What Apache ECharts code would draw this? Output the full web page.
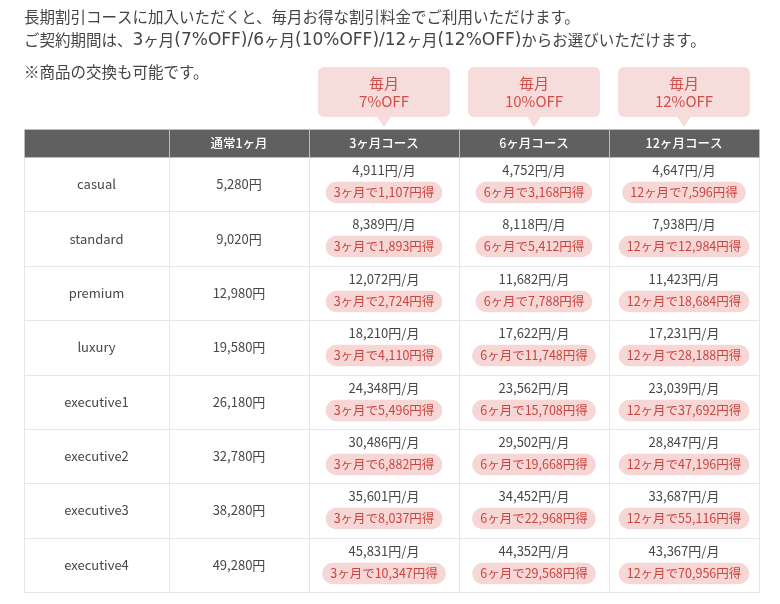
<!DOCTYPE html>
<html>
<head>
<meta charset="utf-8">
<script src="https://cdn.jsdelivr.net/npm/echarts@6/dist/echarts.min.js"></script>
<style>
html,body{margin:0;padding:0;background:#fff;}
#chart{width:780px;height:604px;}
</style>
</head>
<body>
<div id="chart"></div>
<script>
// ---- data ----
const introLine1 = '長期割引コースに加入いただくと、毎月お得な割引料金でご利用いただけます。';
// line 2 split into [text, isLatin] pieces
const introLine2 = [
  ['ご契約期間は、', false], ['3', true], ['ヶ月', false], ['(7%OFF)/6', true], ['ヶ月', false],
  ['(10%OFF)/12', true], ['ヶ月', false], ['(12%OFF)', true], ['からお選びいただけます。', false]
];
const noteText = '※商品の交換も可能です。';
const columnHeaders = ['', '通常1ヶ月', '3ヶ月コース', '6ヶ月コース', '12ヶ月コース'];
const rowNames = ['casual', 'standard', 'premium', 'luxury', 'executive1', 'executive2', 'executive3', 'executive4'];
const normalPrice = [5280, 9020, 12980, 19580, 26180, 32780, 38280, 49280];
const price3 = [4911, 8389, 12072, 18210, 24348, 30486, 35601, 45831];
const price6 = [4752, 8118, 11682, 17622, 23562, 29502, 34452, 44352];
const price12 = [4647, 7938, 11423, 17231, 23039, 28847, 33687, 43367];
const saving3 = [1107, 1893, 2724, 4110, 5496, 6882, 8037, 10347];
const saving6 = [3168, 5412, 7788, 11748, 15708, 19668, 22968, 29568];
const saving12 = [7596, 12984, 18684, 28188, 37692, 47196, 55116, 70956];
const planMonths = [3, 6, 12];
const planOff = ['7%OFF', '10%OFF', '12%OFF'];

// ---- layout / style ----
const FONT = '"Noto Sans CJK JP", "Noto Sans", sans-serif';
const colLeft = [24, 169, 309, 459, 609];
const colWidth = [145, 140, 150, 150, 150];
const bodyTop = 157, bodyHeight = 435, headerH = 28;
const BORDER = '#e6e6e6';
const HEAD_BG = '#606060';
const PILL_BG = '#f7d7d6';
const PILL_TX = '#c9453f';
const TEXT = '#474747';

const fmt = v => v.toLocaleString('en-US');
const planPrices = [price3, price6, price12];
const planSavings = [saving3, saving6, saving12];

const grids = [], xAxes = [], yAxes = [], series = [];
for (let c = 0; c < 5; c++) {
  grids.push({ left: colLeft[c], top: bodyTop, width: colWidth[c], height: bodyHeight, containLabel: false });
  xAxes.push({ gridIndex: c, type: 'category', data: [columnHeaders[c]], show: false });
  yAxes.push({ gridIndex: c, type: 'category', data: rowNames, inverse: true, show: false });
  const data = rowNames.map((name, r) => {
    let item = { value: [0, r] };
    if (c === 0) item.main = name;
    else if (c === 1) item.main = fmt(normalPrice[r]) + '円';
    else {
      const p = c - 2;
      item.main = fmt(planPrices[p][r]) + '円/月';
      item.pill = planMonths[p] + 'ヶ月で' + fmt(planSavings[p][r]) + '円得';
    }
    return item;
  });
  series.push({
    type: 'custom',
    xAxisIndex: c,
    yAxisIndex: c,
    clip: false,
    data: data,
    renderItem: function (params, api) {
      const r = api.value(1);
      const ctr = api.coord([0, r]);
      const size = api.size([1, 1]);
      const x0 = Math.round(ctr[0] - size[0] / 2), x1 = Math.round(ctr[0] + size[0] / 2);
      const y0 = Math.round(ctr[1] - size[1] / 2), y1 = Math.round(ctr[1] + size[1] / 2);
      const item = data[params.dataIndex];
      const children = [];
      children.push({
        type: 'rect',
        shape: { x: x0 + 0.5, y: y0 + 0.5, width: x1 - x0, height: y1 - y0 },
        style: { fill: '#fff', stroke: BORDER, lineWidth: 1 }
      });
      if (item.pill) {
        children.push({
          type: 'text',
          style: { x: ctr[0], y: y0 + 13, text: item.main, align: 'center', verticalAlign: 'middle',
                   fill: TEXT, font: '13px ' + FONT }
        });
        children.push({
          type: 'text',
          style: { x: ctr[0], y: y0 + 35.5, text: item.pill, align: 'center', verticalAlign: 'middle',
                   fill: PILL_TX, font: '12.5px ' + FONT, backgroundColor: PILL_BG,
                   padding: [5, 8, 4, 8], borderRadius: 11 }
        });
      } else {
        children.push({
          type: 'text',
          style: { x: ctr[0], y: ctr[1], text: item.main, align: 'center', verticalAlign: 'middle',
                   fill: TEXT, font: '13px ' + FONT }
        });
      }
      if (params.dataIndex === 0) {
        const cs = params.coordSys;
        const hx = Math.round(cs.x) + 0.5;
        const hy = Math.round(cs.y - headerH) + 0.5;
        children.push({
          type: 'rect',
          shape: { x: hx, y: hy, width: Math.round(cs.width), height: headerH },
          style: { fill: HEAD_BG, stroke: '#bdbdbd', lineWidth: 1 }
        });
        children.push({
          type: 'text',
          style: { x: cs.x + cs.width / 2, y: hy + headerH / 2, text: columnHeaders[c], align: 'center',
                   verticalAlign: 'middle', fill: '#ffffff', font: '500 12.5px ' + FONT }
        });
        if (c >= 2) {
          const p = c - 2;
          const cx = cs.x + cs.width / 2;
          const bTop = cs.y - 90, bBot = cs.y - 40;
          children.push({
            type: 'rect',
            shape: { x: cs.x + 9, y: bTop, width: cs.width - 18, height: bBot - bTop, r: 6 },
            style: { fill: '#f6dcdb' }
          });
          children.push({
            type: 'polygon',
            shape: { points: [[cx - 7, bBot - 0.5], [cx + 7, bBot - 0.5], [cx, cs.y - 30]] },
            style: { fill: '#f6dcdb' }
          });
          children.push({
            type: 'text',
            style: { x: cx, y: (bTop + bBot) / 2, text: '毎月\n' + planOff[p], align: 'center',
                     verticalAlign: 'middle', fill: '#d24f49', font: '15px ' + FONT, lineHeight: 18 }
          });
        }
      }
      return { type: 'group', children: children };
    }
  });
}

const line2Rich = introLine2.map(([t, latin]) => '{' + (latin ? 'l' : 'j') + '|' + t + '}').join('');
const titleStyle = { fontFamily: FONT, fontSize: 15.5, fontWeight: 'normal', color: '#444', lineHeight: 23 };

const chart = echarts.init(document.getElementById('chart'), null, { renderer: 'canvas' });
chart.setOption({
  backgroundColor: '#ffffff',
  animation: false,
  title: [
    { text: introLine1, left: 24, top: 6, padding: 0, textStyle: titleStyle },
    { text: line2Rich, left: 24, top: 29, padding: 0,
      textStyle: Object.assign({}, titleStyle, {
        rich: {
          j: { fontFamily: FONT, fontSize: 15.5, color: '#444', lineHeight: 23 },
          l: { fontFamily: '"DejaVu Sans", sans-serif', fontSize: 17, color: '#444', lineHeight: 23 }
        }
      }) },
    { text: noteText, left: 24, top: 61, padding: 0, textStyle: titleStyle }
  ],
  grid: grids,
  xAxis: xAxes,
  yAxis: yAxes,
  series: series
});
</script>
</body>
</html>
